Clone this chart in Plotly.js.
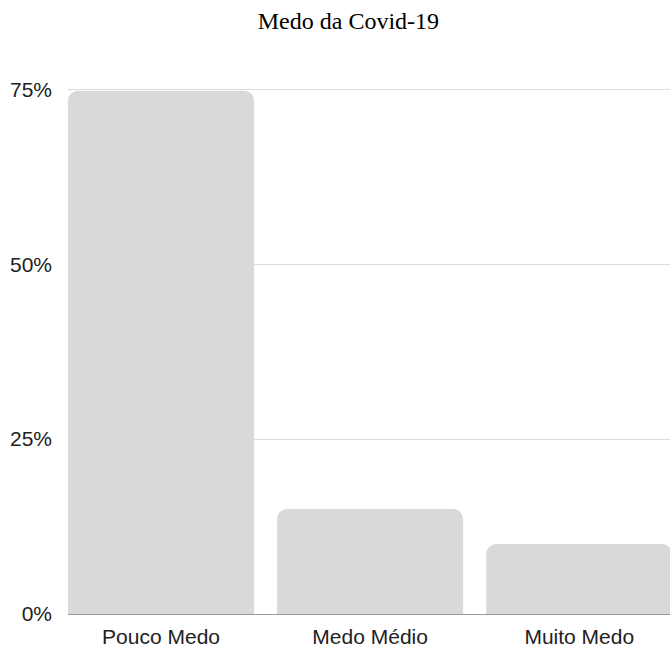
<!DOCTYPE html>
<html>
<head>
<meta charset="utf-8">
<script src="https://cdn.plot.ly/plotly-3.0.1.min.js"></script>
<style>html,body{margin:0;padding:0;background:#fff;}#chart{width:670px;height:647px;}</style>
</head>
<body>
<div id="chart"></div>
<script>
const categories = ["Pouco Medo", "Medo Médio", "Muito Medo"];
const values = [74.8, 15.0, 10.0];
const tickValues = [0, 25, 50, 75];
const tickLabels = ["0%", "25%", "50%", "75%"];
const chartTitle = "Medo da Covid-19";

const trace = {
  type: "bar",
  x: categories,
  y: values,
  width: 0.89,
  marker: { color: "#d9d9d9", cornerradius: 10 },
  hoverinfo: "none"
};

const layout = {
  width: 670,
  height: 647,
  margin: { l: 67.5, r: 0, t: 88, b: 33 },
  paper_bgcolor: "#fff",
  plot_bgcolor: "#fff",
  showlegend: false,
  title: {
    text: chartTitle,
    font: { family: "Liberation Serif, Times New Roman, serif", size: 24, color: "#000" },
    x: 0.52, xanchor: "center", y: 0.9675, yanchor: "middle"
  },
  xaxis: {
    type: "category",
    range: [-0.445, 2.434],
    showgrid: false,
    showline: false,
    zeroline: false,
    ticks: "",
    ticklabelstandoff: 8,
    tickfont: { family: "Liberation Sans, Arial, sans-serif", size: 21, color: "#222" },
    fixedrange: true
  },
  yaxis: {
    range: [0, 75.2],
    tickvals: tickValues,
    ticktext: tickLabels,
    showgrid: true,
    gridcolor: "#dcdcdc",
    gridwidth: 1,
    zeroline: true,
    zerolinecolor: "#999",
    zerolinewidth: 1,
    showline: false,
    ticks: "",
    ticklabelstandoff: 15,
    tickfont: { family: "Liberation Sans, Arial, sans-serif", size: 21, color: "#222" },
    fixedrange: true
  }
};

Plotly.newPlot("chart", [trace], layout, { staticPlot: true, displayModeBar: false });
</script>
</body>
</html>
